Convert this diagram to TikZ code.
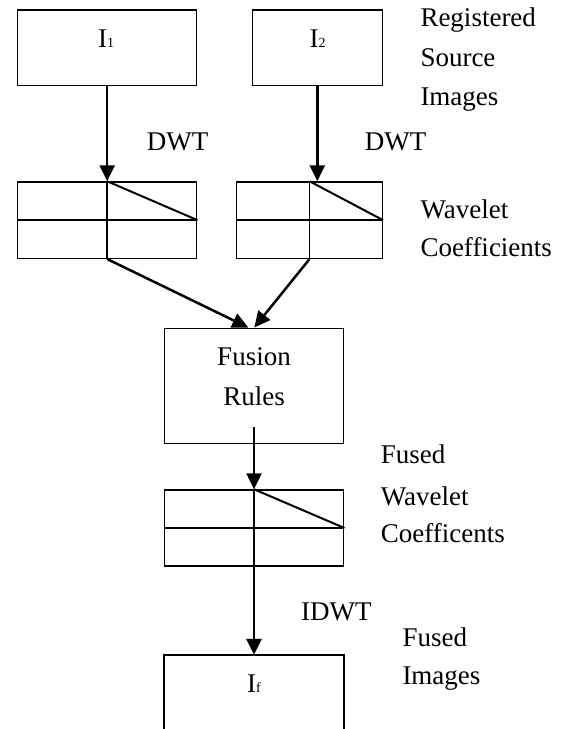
\documentclass[tikz,border=0pt]{standalone}
\usepackage{fontspec}
\setmainfont{Liberation Serif}
\usetikzlibrary{arrows.meta}
\newcommand{\smallsub}[1]{{\fontsize{14}{14}\selectfont #1}}
\begin{document}
\begin{tikzpicture}[x=1pt,y=-1pt,
  box/.style={draw, line width=1.5pt, inner sep=0pt},
  txt/.style={inner sep=0pt, font=\fontsize{27}{27}\selectfont},
  gridline/.style={line width=1.5pt},
  diag/.style={line width=2pt},
  arr/.style={line width=2.5pt, -{Triangle[length=16pt,width=15pt]}}]
\useasboundingbox[fill=white] (0,0) rectangle (566,729);

% boxes
\node[box, minimum width=179pt, minimum height=75.7pt] (I1) at (107.2,47.85) {};
\node[box, minimum width=130pt, minimum height=75.7pt] (I2) at (317.3,47.85) {};
\node[box, minimum width=179pt, minimum height=76.3pt] (G1) at (107.2,220.15) {};
\node[box, minimum width=145.6pt, minimum height=76.3pt] (G2) at (309.5,220.15) {};
\node[box, minimum width=179.4pt, minimum height=115pt] (F) at (254,385.8) {};
\node[box, minimum width=179.4pt, minimum height=76pt] (G3) at (254,528) {};
\node[inner sep=0pt, minimum width=179.4pt, minimum height=74pt] (Ifb) at (254,692) {};
\draw[line width=1.5pt] (Ifb.south west) -- (Ifb.north west) -- (Ifb.north east) -- (Ifb.south east);

% grid inner lines
\foreach \g in {G1,G2,G3}{
  \draw[gridline] (\g.west) -- (\g.east) (\g.north) -- (\g.south);
  \draw[diag] (\g.north) -- (\g.east);
}

% box texts
\node[txt, anchor=base] (I1t) at (106.2,47.7) {I\smallsub{1}};
\node[txt, anchor=base] (I2t) at (317.7,47.7) {I\smallsub{2}};
\node[txt, anchor=base] (Ft1) at (254,365) {Fusion};
\node[txt, anchor=base] (Ft2) at (254,405) {Rules};
\node[txt, anchor=base] (Ift) at (254,692.3) {I\smallsub{f}};

% arrows
\draw[arr] (I1.south) -- (G1.north);
\draw[arr] (I2.south) -- (I2.south |- G2.north);
\draw[arr] (G1.south) -- ([xshift=-5.7pt]F.north);
\draw[arr] (G2.south) -- ([xshift=0.3pt]F.north);
\coordinate (fs) at (254,427.3);
\draw[arr] (fs) -- (G3.north);
\draw[arr] (G3.south) -- (Ifb.north);

% side labels
\node[txt, anchor=base west] (dwt1) at (146.7,150) {DWT};
\node[txt, anchor=base west] (dwt2) at (364.7,150) {DWT};
\node[txt, anchor=base west] (idwt) at (301,620) {IDWT};

\node[txt, anchor=base west] (r1) at (420.3,26.7) {Registered};
\node[txt, anchor=base west] (r2) at (420.3,66) {Source};
\node[txt, anchor=base west] (r3) at (420.3,105) {Images};

\node[txt, anchor=base west] (w1) at (420.3,218.3) {Wavelet};
\node[txt, anchor=base west] (w2) at (420.3,256.7) {Coefficients};

\node[txt, anchor=base west] (fw1) at (380.7,463.3) {Fused};
\node[txt, anchor=base west] (fw2) at (380.7,505) {Wavelet};
\node[txt, anchor=base west] (fw3) at (380.7,542.7) {Coefficents};

\node[txt, anchor=base west] (fi1) at (402.3,646) {Fused};
\node[txt, anchor=base west] (fi2) at (402.3,684) {Images};
\end{tikzpicture}
\end{document}
